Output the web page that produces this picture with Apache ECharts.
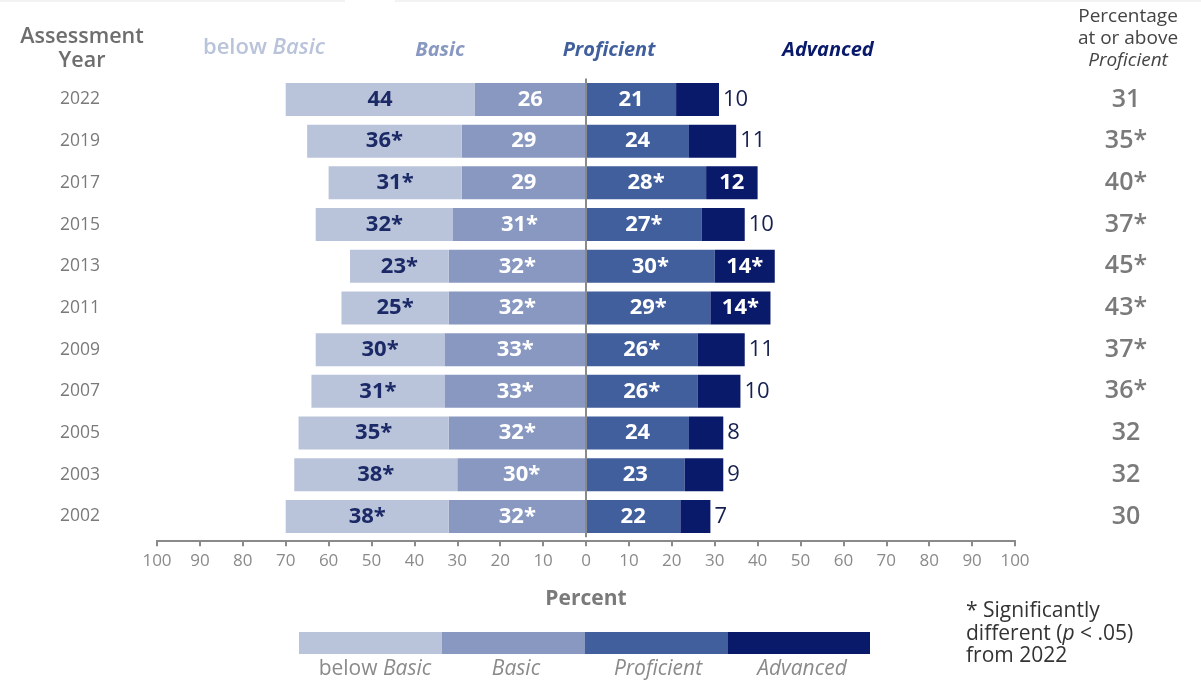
<!DOCTYPE html>
<html>
<head>
<meta charset="utf-8">
<title>Achievement levels by assessment year</title>
<script src="https://cdn.jsdelivr.net/npm/echarts@6/dist/echarts.min.js"></script>
<style>
  html, body { margin: 0; padding: 0; background: #ffffff; }
  #chart { width: 1201px; height: 680px; }
</style>
</head>
<body>
<div id="chart"></div>
<script>
// Assessment years, top to bottom
const years = ['2022', '2019', '2017', '2015', '2013', '2011', '2009', '2007', '2005', '2003', '2002'];

// Percent of students at each achievement level
const belowBasic = [44, 36, 31, 32, 23, 25, 30, 31, 35, 38, 38];
const basic      = [26, 29, 29, 31, 32, 32, 33, 33, 32, 30, 32];
const proficient = [21, 24, 28, 27, 30, 29, 26, 26, 24, 23, 22];
const advanced   = [10, 11, 12, 10, 14, 14, 11, 10,  8,  9,  7];
const atOrAboveProficient = [31, 35, 40, 37, 45, 43, 37, 36, 32, 32, 30];

// 1 = significantly different from 2022
const belowBasicSig = [0, 1, 1, 1, 1, 1, 1, 1, 1, 1, 1];
const basicSig      = [0, 0, 0, 1, 1, 1, 1, 1, 1, 1, 1];
const proficientSig = [0, 0, 1, 1, 1, 1, 1, 1, 0, 0, 0];
const advancedSig   = [0, 0, 0, 0, 1, 1, 0, 0, 0, 0, 0];
const aboveSig      = [0, 1, 1, 1, 1, 1, 1, 1, 0, 0, 0];

// Axis ticks
const percentTicks = { min: -100, max: 100, step: 10 };

const FONT = '"Open Sans", "Noto Sans", sans-serif';
const C_BELOW = '#b9c3da';
const C_BASIC = '#8898c1';
const C_PROF  = '#415f9d';
const C_ADV   = '#0a1a6b';
const C_DARK_LABEL = '#1b2a66';

const star = (v, s) => String(Math.abs(v)) + (s ? '*' : '');

const chart = echarts.init(document.getElementById('chart'), null, { renderer: 'canvas' });

const segLabel = (sig, color) => ({
  show: true,
  position: 'inside',
  color: color,
  fontFamily: FONT,
  fontWeight: 'bold',
  fontSize: 22,
  formatter: p => star(p.value, sig[p.dataIndex])
});

// Advanced segments: narrow ones carry their label just outside the bar
const advancedData = advanced.map(v => {
  const wide = v >= 12;
  return {
    value: v,
    label: wide
      ? { position: 'inside', color: '#ffffff' }
      : { position: 'right', color: '#16204f', distance: 4, fontWeight: 'normal' }
  };
});

const option = {
  animation: false,
  backgroundColor: '#ffffff',
  grid: { left: 157, right: 186, top: 78.6, height: 458.7, containLabel: false },
  xAxis: {
    type: 'value',
    min: percentTicks.min,
    max: percentTicks.max,
    interval: percentTicks.step,
    offset: 3,
    axisLine: { show: true, lineStyle: { color: '#8a8a8a', width: 2 } },
    axisTick: { show: true, length: 6, lineStyle: { color: '#8a8a8a', width: 2 } },
    axisLabel: {
      color: '#8a8a8a', fontFamily: FONT, fontSize: 17, margin: 12,
      formatter: v => String(Math.abs(v))
    },
    splitLine: { show: false },
    name: 'Percent',
    nameLocation: 'middle',
    nameGap: 48,
    nameTextStyle: { color: '#7a7a7a', fontFamily: FONT, fontSize: 21, fontWeight: 'bold' }
  },
  yAxis: [
    {
      type: 'category',
      data: years,
      inverse: true,
      axisLine: { show: false },
      axisTick: { show: false },
      axisLabel: { color: '#7a7a7a', fontFamily: FONT, fontSize: 17.5, align: 'center', margin: 77 }
    },
    {
      type: 'category',
      data: years,
      inverse: true,
      position: 'right',
      axisLine: { show: false },
      axisTick: { show: false },
      axisLabel: {
        color: '#7a7a7a', fontFamily: FONT, fontSize: 25, fontWeight: 600,
        align: 'center', margin: 111,
        formatter: (v, i) => star(atOrAboveProficient[i], aboveSig[i])
      }
    }
  ],
  series: [
    {
      name: 'Basic', type: 'bar', stack: 'levels', barWidth: 33,
      itemStyle: { color: C_BASIC },
      label: segLabel(basicSig, '#ffffff'),
      data: basic.map(v => -v),
      markLine: {
        silent: true, symbol: 'none', label: { show: false },
        lineStyle: { color: '#8a8a8a', width: 2, type: 'solid' },
        data: [{ xAxis: 0 }]
      },
      z: 2
    },
    {
      name: 'below Basic', type: 'bar', stack: 'levels', barWidth: 33,
      itemStyle: { color: C_BELOW },
      label: segLabel(belowBasicSig, C_DARK_LABEL),
      data: belowBasic.map(v => -v)
    },
    {
      name: 'Proficient', type: 'bar', stack: 'levels', barWidth: 33,
      itemStyle: { color: C_PROF },
      label: segLabel(proficientSig, '#ffffff'),
      data: proficient
    },
    {
      name: 'Advanced', type: 'bar', stack: 'levels', barWidth: 33,
      itemStyle: { color: C_ADV },
      label: segLabel(advancedSig, '#ffffff'),
      data: advancedData
    }
  ],
  graphic: [
    // faint rule along the top edge
    { type: 'line', shape: { x1: 0, y1: 1, x2: 345, y2: 1 }, style: { stroke: '#e6e6e6', lineWidth: 1 } },
    { type: 'line', shape: { x1: 395, y1: 1, x2: 1201, y2: 1 }, style: { stroke: '#e6e6e6', lineWidth: 1 } },

    // column headers
    { type: 'text', x: 82, y: 37, style: { text: 'Assessment', font: `600 21.5px ${FONT}`, fill: '#6e6e6e', align: 'center', verticalAlign: 'middle' } },
    { type: 'text', x: 82, y: 61, style: { text: 'Year', font: `600 21.5px ${FONT}`, fill: '#6e6e6e', align: 'center', verticalAlign: 'middle' } },
    {
      type: 'text', x: 264, y: 48,
      style: {
        text: 'below {i|Basic}', font: `600 22px ${FONT}`, fill: C_BELOW, align: 'center', verticalAlign: 'middle',
        rich: { i: { fontStyle: 'italic', fontWeight: 600, fontFamily: FONT, fontSize: 22, fill: C_BELOW } }
      }
    },
    { type: 'text', x: 440, y: 50, style: { text: 'Basic', font: `italic bold 20px ${FONT}`, fill: C_BASIC, align: 'center', verticalAlign: 'middle' } },
    { type: 'text', x: 609, y: 50, style: { text: 'Proficient', font: `italic bold 20px ${FONT}`, fill: C_PROF, align: 'center', verticalAlign: 'middle' } },
    { type: 'text', x: 828, y: 50, style: { text: 'Advanced', font: `italic bold 20px ${FONT}`, fill: C_ADV, align: 'center', verticalAlign: 'middle' } },
    { type: 'text', x: 1128, y: 17, style: { text: 'Percentage', font: `19px ${FONT}`, fill: '#444444', align: 'center', verticalAlign: 'middle' } },
    { type: 'text', x: 1128, y: 39, style: { text: 'at or above', font: `19px ${FONT}`, fill: '#444444', align: 'center', verticalAlign: 'middle' } },
    { type: 'text', x: 1128, y: 61, style: { text: 'Proficient', font: `italic 19px ${FONT}`, fill: '#444444', align: 'center', verticalAlign: 'middle' } },

    // colour key
    { type: 'rect', shape: { x: 299, y: 632, width: 143, height: 22 }, style: { fill: C_BELOW } },
    { type: 'rect', shape: { x: 442, y: 632, width: 143, height: 22 }, style: { fill: C_BASIC } },
    { type: 'rect', shape: { x: 585, y: 632, width: 143, height: 22 }, style: { fill: C_PROF } },
    { type: 'rect', shape: { x: 728, y: 632, width: 142, height: 22 }, style: { fill: C_ADV } },
    {
      type: 'text', x: 375, y: 669,
      style: {
        text: 'below {i|Basic}', font: `21px ${FONT}`, fill: '#8a8a8a', align: 'center', verticalAlign: 'middle',
        rich: { i: { fontStyle: 'italic', fontFamily: FONT, fontSize: 21, fill: '#8a8a8a' } }
      }
    },
    { type: 'text', x: 516, y: 669, style: { text: 'Basic', font: `italic 21px ${FONT}`, fill: '#8a8a8a', align: 'center', verticalAlign: 'middle' } },
    { type: 'text', x: 658, y: 669, style: { text: 'Proficient', font: `italic 21px ${FONT}`, fill: '#8a8a8a', align: 'center', verticalAlign: 'middle' } },
    { type: 'text', x: 802, y: 669, style: { text: 'Advanced', font: `italic 21px ${FONT}`, fill: '#8a8a8a', align: 'center', verticalAlign: 'middle' } },

    // significance note
    {
      type: 'text', x: 966, y: 600,
      style: {
        text: '* Significantly\ndifferent ({i|p} < .05)\nfrom 2022',
        font: `21px ${FONT}`, fill: '#333333', lineHeight: 22.5,
        rich: { i: { fontStyle: 'italic', fontFamily: FONT, fontSize: 21, fill: '#333333', lineHeight: 22.5 } }
      }
    }
  ]
};

chart.setOption(option);
</script>
</body>
</html>
